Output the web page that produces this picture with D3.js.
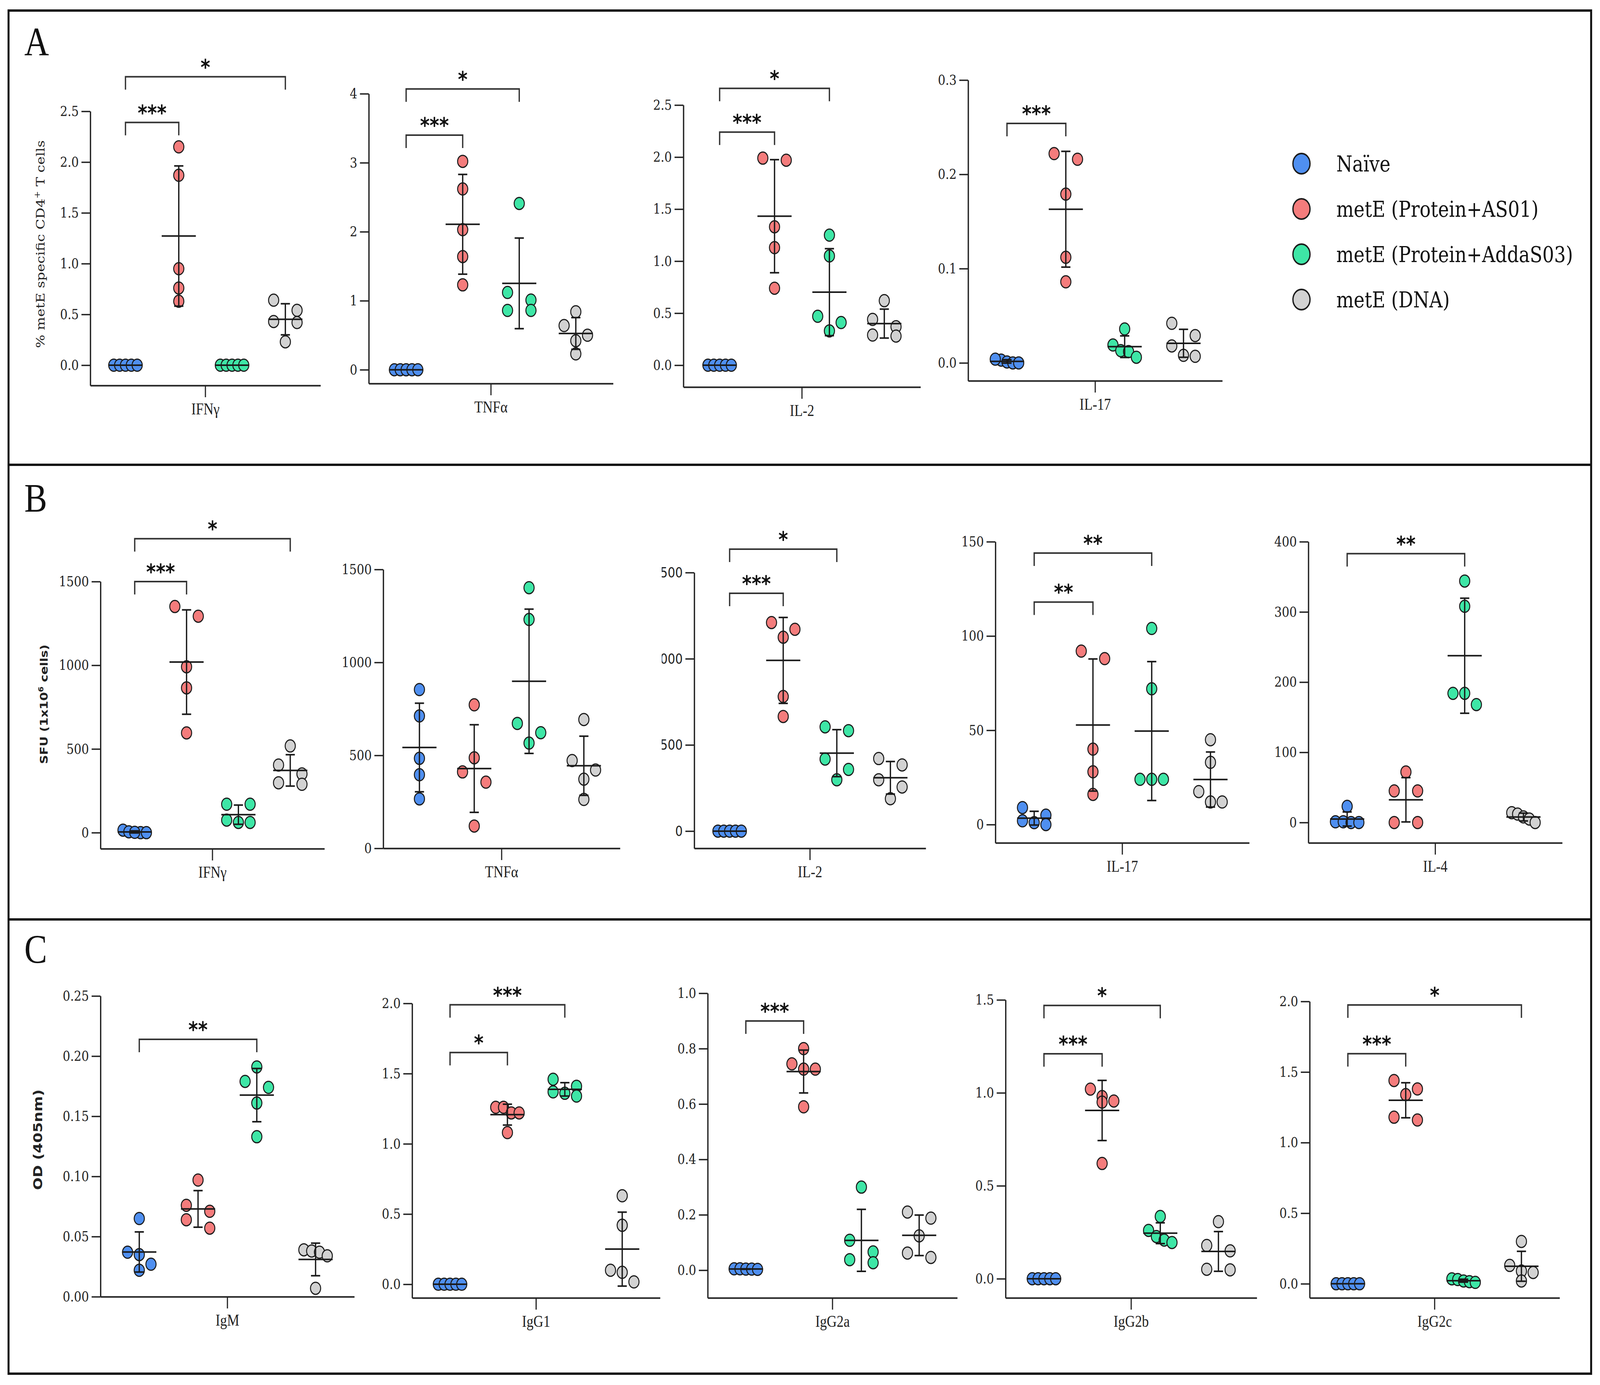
<!DOCTYPE html>
<html>
<head>
<meta charset="utf-8">
<script src="https://cdn.jsdelivr.net/npm/d3@7"></script>
<style>
  html, body { margin: 0; padding: 0; background: white; overflow: hidden; }
  svg { display: block; width: 100vw; height: 100vh; }
</style>
</head>
<body>
<script>
// groups (same order in every chart)
const groups = ["Naïve", "metE (Protein+AS01)", "metE (Protein+AddaS03)", "metE (DNA)"];
const groupColors = ["#4f8ff0", "#f47c7c", "#3ee6a6", "#d2d2d2"];

// A: % metE specific CD4+ T cells
const aIFNg = [[0, 0, 0, 0, 0], [2.15, 1.87, 0.95, 0.76, 0.63], [0, 0, 0, 0, 0], [0.64, 0.54, 0.43, 0.42, 0.23]];
const aTNFa = [[0, 0, 0, 0, 0], [3.02, 2.62, 2.03, 1.64, 1.23], [2.41, 1.12, 1.01, 0.86, 0.86], [0.84, 0.64, 0.50, 0.42, 0.23]];
const aIL2 = [[0, 0, 0, 0, 0], [1.99, 1.97, 1.33, 1.13, 0.74], [1.25, 1.05, 0.47, 0.41, 0.33], [0.62, 0.44, 0.37, 0.29, 0.28]];
const aIL17 = [[0.003, 0.004, 0.001, 0, 0], [0.222, 0.216, 0.179, 0.112, 0.086], [0.036, 0.019, 0.013, 0.012, 0.006], [0.042, 0.029, 0.018, 0.008, 0.007]];

// B: SFU (1x10^6 cells)
const bIFNg = [[15, 5, 0, 0, 2], [1351, 1293, 991, 865, 596], [170, 170, 61, 75, 61], [518, 404, 351, 289, 298]];
const bTNFa = [[854, 712, 484, 396, 266], [772, 487, 411, 356, 120], [1402, 1231, 672, 622, 566], [693, 472, 421, 372, 263]];
const bIL2 = [[0, 0, 0, 0, 0], [1210, 1171, 1125, 781, 665], [605, 583, 418, 358, 298], [421, 384, 298, 256, 188]];
const bIL17 = [[9, 5, 1, 2, 0], [92, 88, 40, 28, 16], [104, 72, 24, 24, 24], [45, 33, 17.5, 12, 12]];
const bIL4 = [[23, 1, 1, 0, 0], [72, 45, 45, 0, 0], [344, 308, 184, 184, 168], [14, 12, 8, 5, 0]];

// C: OD (405nm)
const cIgM = [[0.065, 0.035, 0.037, 0.027, 0.022], [0.097, 0.076, 0.071, 0.064, 0.057], [0.191, 0.179, 0.174, 0.161, 0.133], [0.039, 0.038, 0.037, 0.034, 0.007]];
const cIgG1 = [[0, 0, 0, 0, 0], [1.26, 1.26, 1.22, 1.22, 1.08], [1.46, 1.41, 1.37, 1.36, 1.34], [0.63, 0.42, 0.10, 0.085, 0.017]];
const cIgG2a = [[0.005, 0.005, 0.004, 0.004, 0.003], [0.80, 0.745, 0.726, 0.726, 0.59], [0.30, 0.108, 0.066, 0.038, 0.027], [0.21, 0.188, 0.124, 0.062, 0.046]];
const cIgG2b = [[0, 0, 0, 0, 0], [1.02, 0.98, 0.956, 0.95, 0.62], [0.335, 0.26, 0.227, 0.208, 0.195], [0.307, 0.179, 0.15, 0.051, 0.048]];
const cIgG2c = [[0, 0, 0, 0, 0], [1.44, 1.38, 1.34, 1.18, 1.16], [0.035, 0.03, 0.02, 0.015, 0.01], [0.30, 0.13, 0.09, 0.08, 0.02]];

// y ticks
const ticksA1 = [0, 0.5, 1, 1.5, 2, 2.5];
const ticksA2 = [0, 1, 2, 3, 4];
const ticksA4 = [0, 0.1, 0.2, 0.3];
const ticksB = [0, 500, 1000, 1500];
const ticksB4 = [0, 50, 100, 150];
const ticksB5 = [0, 100, 200, 300, 400];
const ticksC1 = [0, 0.05, 0.10, 0.15, 0.20, 0.25];
const ticksC2 = [0, 0.5, 1.0, 1.5, 2.0];
const ticksC3 = [0, 0.2, 0.4, 0.6, 0.8, 1.0];
const ticksC4 = [0, 0.5, 1.0, 1.5];

// significance brackets: [from group, to group, stars, height in data units]
const sigA1 = [[0, 1, "***", 2.39], [0, 3, "*", 2.84]];
const sigA2 = [[0, 1, "***", 3.40], [0, 2, "*", 4.07]];
const sigA3 = [[0, 1, "***", 2.24], [0, 2, "*", 2.66]];
const sigA4 = [[0, 1, "***", 0.254]];
const sigB1 = [[0, 1, "***", 1500], [0, 3, "*", 1756]];
const sigB3 = [[0, 1, "***", 1380], [0, 2, "*", 1636]];
const sigB4 = [[0, 1, "**", 118], [0, 2, "**", 144]];
const sigB5 = [[0, 2, "**", 383]];
const sigC1 = [[0, 2, "**", 0.214]];
const sigC2 = [[0, 1, "*", 1.65], [0, 2, "***", 1.99]];
const sigC3 = [[0, 1, "***", 0.90]];
const sigC4 = [[0, 1, "***", 1.21], [0, 2, "*", 1.47]];
const sigC5 = [[0, 1, "***", 1.63], [0, 3, "*", 1.975]];

const width = 4872, height = 3546;
const r = 15.5;

const charts = [
  { name: "IFNγ", data: aIFNg, domain: [-0.2, 2.5], ticks: ticksA1, fmt: ".1f", sig: sigA1, box: [275, 976, 285, 987] },
  { name: "TNFα", data: aTNFa, domain: [-0.2, 4], ticks: ticksA2, fmt: "d", sig: sigA2, box: [1123, 1867, 240, 982] },
  { name: "IL-2", data: aIL2, domain: [-0.21, 2.5], ticks: ticksA1, fmt: ".1f", sig: sigA3, box: [2081, 2803, 269, 991] },
  { name: "IL-17", data: aIL17, domain: [-0.019, 0.3], ticks: ticksA4, fmt: ".1f", sig: sigA4, box: [2948, 3722, 205, 975] },
  { name: "IFNγ", data: bIFNg, domain: [-96, 1500], ticks: ticksB, fmt: "d", sig: sigB1, box: [306, 988, 1489, 2173] },
  { name: "TNFα", data: bTNFa, domain: [0, 1500], ticks: ticksB, fmt: "d", sig: [], box: [1167, 1888, 1458, 2172] },
  { name: "IL-2", data: bIL2, domain: [-100, 1500], ticks: ticksB, fmt: "d", sig: sigB3, box: [2114, 2819, 1466, 2172], sans: true, clip: 2015 },
  { name: "IL-17", data: bIL17, domain: [-9.7, 150], ticks: ticksB4, fmt: "d", sig: sigB4, box: [3031, 3804, 1387, 2158] },
  { name: "IL-4", data: bIL4, domain: [-29, 400], ticks: ticksB5, fmt: "d", sig: sigB5, box: [3984, 4757, 1387, 2158] },
  { name: "IgM", data: cIgM, domain: [0, 0.25], ticks: ticksC1, fmt: ".2f", sig: sigC1, box: [306, 1079, 2550, 3320] },
  { name: "IgG1", data: cIgG1, domain: [-0.097, 2], ticks: ticksC2, fmt: ".1f", sig: sigC2, box: [1255, 2010, 2569, 3323] },
  { name: "IgG2a", data: cIgG2a, domain: [-0.1, 1], ticks: ticksC3, fmt: ".1f", sig: sigC3, box: [2155, 2915, 2543, 3323] },
  { name: "IgG2b", data: cIgG2b, domain: [-0.103, 1.5], ticks: ticksC4, fmt: ".1f", sig: sigC4, box: [3062, 3827, 2560, 3323] },
  { name: "IgG2c", data: cIgG2c, domain: [-0.1, 2], ticks: ticksC2, fmt: ".1f", sig: sigC5, box: [3988, 4749, 2564, 3323] },
];

// the figure is stretched to fill the whole window
const svg = d3.select("body").append("svg")
  .attr("viewBox", `0 0 ${width} ${height}`)
  .attr("preserveAspectRatio", "none");

svg.append("rect").attr("width", width).attr("height", height).attr("fill", "white");

// panel frames
const panelLines = [27, 1190, 2354, 3517];
svg.append("rect")
  .attr("x", 26).attr("y", panelLines[0])
  .attr("width", 4845 - 26).attr("height", panelLines[3] - panelLines[0])
  .attr("fill", "none").attr("stroke", "#111").attr("stroke-width", 6);
[1, 2].forEach(i => svg.append("line")
  .attr("x1", 26).attr("x2", 4845)
  .attr("y1", panelLines[i]).attr("y2", panelLines[i])
  .attr("stroke", "#111").attr("stroke-width", 6));

[["A", 142], ["B", 1310], ["C", 2465]].forEach(([t, yy]) => svg.append("text")
  .attr("x", 74).attr("y", yy)
  .style("font-family", "Liberation Serif").style("font-size", "104px")
  .attr("fill", "#111").text(t));

// y axis titles
const yTitles = [
  { text: "% metE specific CD4", sup: "+", rest: " T cells", x: 123, y: 625, font: "DejaVu Serif", size: 36, weight: "normal" },
  { text: "SFU (1x10", sup: "6", rest: " cells)", x: 134, y: 1803, font: "DejaVu Sans", size: 32, weight: "bold" },
  { text: "OD (405nm)", sup: "", rest: "", x: 115, y: 2918, font: "DejaVu Sans", size: 38, weight: "bold" },
];
yTitles.forEach(t => {
  const tx = svg.append("text")
    .attr("transform", `translate(${t.x},${t.y}) rotate(-90)`)
    .attr("text-anchor", "middle")
    .attr("dy", "0.35em")
    .style("font-family", t.font).style("font-size", t.size + "px").style("font-weight", t.weight)
    .attr("fill", "#222");
  tx.append("tspan").text(t.text);
  if (t.sup) tx.append("tspan").attr("dy", -t.size * 0.4).style("font-size", (t.size * 0.65) + "px").text(t.sup);
  if (t.rest) tx.append("tspan").attr("dy", t.sup ? t.size * 0.4 : 0).text(t.rest);
});

// spread points of one group in rows, GraphPad style
function swarm(vals, cx, y) {
  const pts = vals.map(v => ({ v, py: y(v) }));
  const sorted = pts.slice().sort((a, b) => a.py - b.py);
  const rows = [];
  sorted.forEach(p => {
    const row = rows[rows.length - 1];
    if (row && p.py - row[0].py < 2 * r + 1) row.push(p);
    else rows.push([p]);
  });
  const half = 2.3 * r;
  rows.forEach(row => {
    const n = row.length;
    row.forEach((p, k) => {
      p.px = n > 1 ? cx - half + k * (2 * half / (n - 1)) : cx;
    });
  });
  return pts;
}

charts.forEach((c, ci) => {
  const [left, right, top, bottom] = c.box;
  const x = d3.scalePoint().domain(d3.range(groups.length)).range([left, right]).padding(0.66);
  const y = d3.scaleLinear().domain(c.domain).range([bottom, top]);

  const g = svg.append("g");

  // y axis (clipped at the left for the panel whose labels are cut in the figure)
  const yWrap = g.append("g");
  if (c.clip) {
    svg.append("clipPath").attr("id", "clip" + ci)
      .append("rect").attr("x", c.clip).attr("y", 0).attr("width", width - c.clip).attr("height", height);
    yWrap.attr("clip-path", `url(#clip${ci})`);
  }
  const yAxis = yWrap.append("g")
    .attr("transform", `translate(${left},0)`)
    .call(d3.axisLeft(y).tickValues(c.ticks).tickFormat(d3.format(c.fmt)).tickSize(27).tickSizeOuter(0).tickPadding(8));
  yAxis.select(".domain").attr("stroke", "#222").attr("stroke-width", 4);
  yAxis.selectAll(".tick line").attr("stroke", "#222").attr("stroke-width", 3.5);
  yAxis.selectAll(".tick text")
    .style("font-family", c.sans ? "DejaVu Sans" : "DejaVu Serif")
    .style("font-size", "36px")
    .attr("fill", "#222");

  // x axis with the single category
  const xBand = d3.scaleBand().domain([c.name]).range([left, right]);
  const xAxis = g.append("g")
    .attr("transform", `translate(0,${bottom})`)
    .call(d3.axisBottom(xBand).tickSize(30).tickSizeOuter(0).tickPadding(14));
  xAxis.select(".domain").attr("stroke", "#222").attr("stroke-width", 4);
  xAxis.selectAll(".tick line").attr("stroke", "#222").attr("stroke-width", 3.5);
  xAxis.selectAll(".tick text")
    .style("font-family", "Liberation Serif")
    .style("font-size", "42px")
    .attr("fill", "#222");

  // points
  c.data.forEach((vals, gi) => {
    const pts = swarm(vals, x(gi), y);
    g.append("g").selectAll("circle")
      .data(pts)
      .enter().append("circle")
      .attr("cx", d => d.px)
      .attr("cy", d => d.py)
      .attr("r", r)
      .attr("fill", groupColors[gi])
      .attr("stroke", "#1b1b1b")
      .attr("stroke-width", 3);
  });

  // mean +/- SD
  const stats = c.data.map((vals, gi) => ({
    gi,
    mean: d3.mean(vals),
    sd: d3.deviation(vals) || 0,
  }));
  const bars = g.append("g").attr("stroke", "#1a1a1a").attr("stroke-width", 4);
  stats.forEach(s => {
    const cx = x(s.gi);
    bars.append("line")
      .attr("x1", cx - 52).attr("x2", cx + 52)
      .attr("y1", y(s.mean)).attr("y2", y(s.mean));
    if (s.sd > 0) {
      const lo = Math.max(s.mean - s.sd, c.domain[0]);
      bars.append("line")
        .attr("x1", cx).attr("x2", cx)
        .attr("y1", y(lo)).attr("y2", y(s.mean + s.sd));
      [lo, s.mean + s.sd].forEach(v => bars.append("line")
        .attr("x1", cx - 14).attr("x2", cx + 14)
        .attr("y1", y(v)).attr("y2", y(v)));
    }
  });

  // significance brackets
  c.sig.forEach(([a, b, label, level]) => {
    const ly = y(level);
    g.append("path")
      .attr("d", `M${x(a)},${ly + 33}V${ly}H${x(b)}V${ly + 33}`)
      .attr("fill", "none")
      .attr("stroke", "#333")
      .attr("stroke-width", 4);
    g.append("text")
      .attr("x", (x(a) + x(b)) / 2)
      .attr("y", ly - 6)
      .attr("text-anchor", "middle")
      .style("font-family", "DejaVu Sans")
      .style("font-weight", "bold")
      .style("font-size", "56px")
      .attr("fill", "#111")
      .text(label);
  });
});

// legend
const legendY = d3.scalePoint().domain(groups).range([419, 767]);
const legend = svg.append("g");
legend.selectAll("circle")
  .data(groups)
  .enter().append("circle")
  .attr("cx", 3963)
  .attr("cy", d => legendY(d))
  .attr("r", 26)
  .attr("fill", (d, i) => groupColors[i])
  .attr("stroke", "#1b1b1b")
  .attr("stroke-width", 4);
legend.selectAll("text")
  .data(groups)
  .enter().append("text")
  .attr("x", 4069)
  .attr("y", d => legendY(d) + 20)
  .style("font-family", "DejaVu Serif")
  .style("font-size", "56px")
  .attr("fill", "#111")
  .text(d => d);
</script>
</body>
</html>
